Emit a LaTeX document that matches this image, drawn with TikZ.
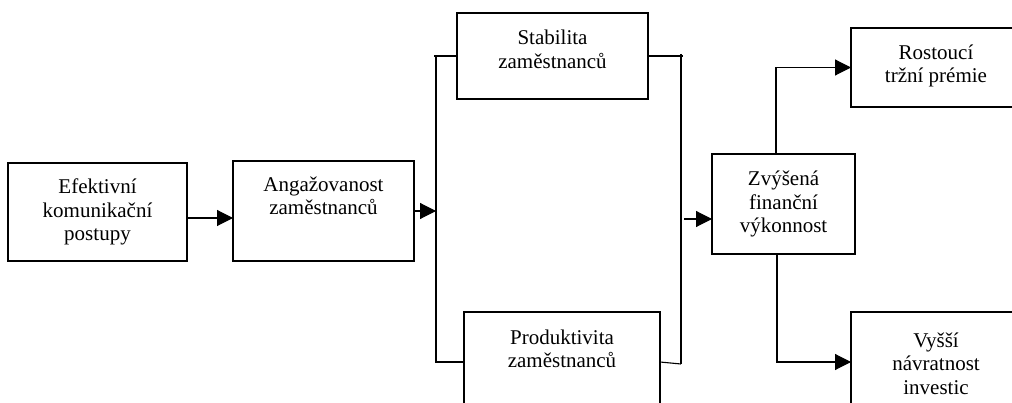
\documentclass[tikz,border=0pt]{standalone}
\usepackage{fontspec}
\setmainfont{Liberation Serif}
\usetikzlibrary{arrows.meta,calc}
\begin{document}
\begin{tikzpicture}[x=1pt,y=-1pt,
  box/.style={draw,line width=1.1pt,inner sep=0pt,outer sep=0pt},
  txt/.style={align=center,inner sep=0pt,font=\fontsize{21}{23.5}\selectfont},
  ln/.style={line width=1.1pt},
  arr/.style={line width=1.1pt,-{Triangle[length=16pt,width=16pt]}}]
\useasboundingbox (0,0) rectangle (1012,403);
\begin{scope}
\clip (0,0) rectangle (1012,403);
% boxes
\node[box,minimum width=179pt,minimum height=98pt] (b1) at (97.5,212) {};
\node[box,minimum width=181pt,minimum height=100pt] (b2) at (323.5,211) {};
\node[box,minimum width=191pt,minimum height=86pt] (st) at (552.5,56) {};
\node[box,minimum width=196pt,minimum height=100pt] (pr) at (562,362) {};
\node[box,minimum width=143pt,minimum height=100pt] (zv) at (783.5,204) {};
\node[box,minimum width=170pt,minimum height=79pt] (ro) at (936,67.5) {};
\node[box,minimum width=170pt,minimum height=100pt] (vy) at (936,362) {};
% texts
\node[txt] (t1) at (b1.center) {Efektivní\\komunikační\\postupy};
\node[txt] (t2) at ([yshift=15pt]b2.center) {Angažovanost\\zaměstnanců};
\node[txt] (t3) at ([yshift=6.5pt]st.center) {Stabilita\\zaměstnanců};
\node[txt] (t4) at ([yshift=13pt]pr.center) {Produktivita\\zaměstnanců};
\node[txt] (t5) at (zv.center) {Zvýšená\\finanční\\výkonnost};
\node[txt] (t6) at ([yshift=1.5pt]ro.center) {Rostoucí\\tržní prémie};
\node[txt] (t7) at ([yshift=-1.5pt]vy.center) {Vyšší\\návratnost\\investic};
% buses
\coordinate (lt) at (436,57);
\coordinate (lb) at (436,362);
\coordinate (rt) at (681,54);
\coordinate (rb) at (681,364);
\draw[arr] ([yshift=-6pt]b1.east) -- ([yshift=-6pt]b1.east -| b2.west);
\draw[arr] (b2.east) -- (b2.east -| lt);
\draw[ln] ([xshift=-2pt]lt |- st.west) -- (st.west);
\draw[ln] (lt) -- (lb) -- (pr.west);
\draw[ln] (st.east) -- ([xshift=2pt]rt |- st.west);
\draw[ln] (rt) -- (rb);
\draw[ln] (pr.east) -- (rb);
\draw[arr] ([xshift=3pt]rt |- 0,219) -- (zv.west |- 0,219);
\draw[arr] ([xshift=-7.5pt]zv.north) |- (ro.west);
\draw[arr] ([xshift=-6.5pt]zv.south) |- (vy.west);
\end{scope}
\end{tikzpicture}
\end{document}
